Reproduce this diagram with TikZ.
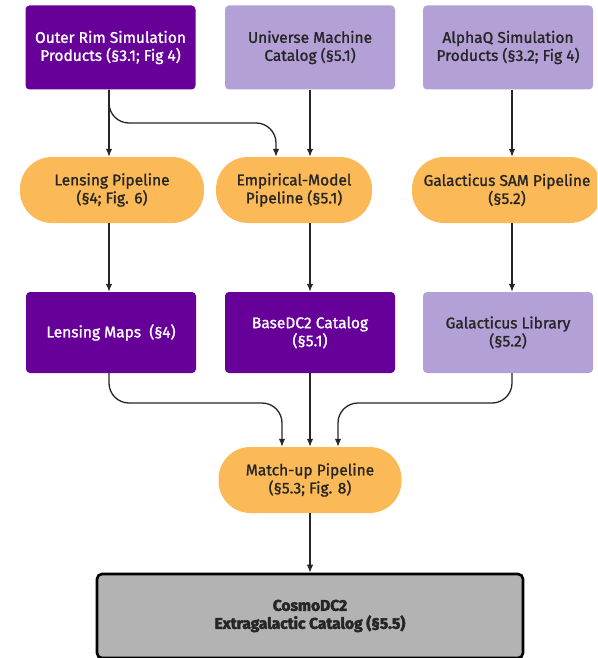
\documentclass[tikz,border=0pt]{standalone}
\usepackage{fontspec}
\setmainfont{Fira Sans}[FakeBold=1.3,BoldFeatures={FakeBold=3}]
\usetikzlibrary{arrows.meta}
\definecolor{dpurple}{HTML}{660099}
\definecolor{lpurple}{HTML}{B3A0D6}
\definecolor{porange}{HTML}{FCB957}
\definecolor{fgrey}{HTML}{B3B3B3}
\definecolor{ink}{HTML}{262626}
\begin{document}
\begin{tikzpicture}[x=1pt,y=-1pt,
  base/.style={align=center,font=\fontsize{15.5}{18}\selectfont,inner sep=2pt},
  darkbox/.style={base,fill=dpurple,text=white,rounded corners=4pt,minimum width=170pt,minimum height=84pt},
  lightbox/.style={base,fill=lpurple,text=ink,rounded corners=4pt,minimum width=170pt,minimum height=84pt},
  pill/.style={base,fill=porange,text=ink,rounded corners=32pt,minimum height=66pt},
  finalbox/.style={base,fill=fgrey,text=ink,draw=black,line width=2.6pt,rounded corners=5pt,minimum width=426pt,minimum height=84pt},
  arr/.style={draw=ink,line width=1.3pt,-{Latex[length=8pt,width=6.5pt]}}]
\useasboundingbox (0,0) rectangle (597,658);
\clip (0,0) rectangle (597,658);
% row 1
\node[darkbox]  (outer) at (110.5,47.5) {Outer Rim Simulation\\Products (§3.1; Fig 4)};
\node[lightbox] (um)    at (310,47.5)   {Universe Machine\\Catalog (§5.1)};
\node[lightbox] (alpha) at (508,47.5)   {AlphaQ Simulation\\Products (§3.2; Fig 4)};
% row 2
\node[pill,minimum width=184pt] (lpipe) at (112,190) {Lensing Pipeline\\(§4; Fig. 6)};
\node[pill,minimum width=156pt] (epipe) at (294,190) {Empirical-Model\\Pipeline (§5.1)};
\node[pill,minimum width=190pt] (gpipe) at (507,190) {Galacticus SAM Pipeline\\(§5.2)};
% row 3
\node[darkbox,minimum height=81pt]  (lmaps) at (111,332.5) {Lensing Maps~~(§4)};
\node[darkbox,minimum height=81pt]  (bdc2)  at (310,332.5) {BaseDC2 Catalog\\(§5.1)};
\node[lightbox,minimum height=81pt] (glib)  at (508,332.5) {Galacticus Library\\(§5.2)};
% row 4
\node[pill,minimum width=183pt] (match) at (310,480) {Match-up Pipeline\\(§5.3; Fig. 8)};
% final
\node[finalbox] (cosmo) at (310,616) {\textbf{CosmoDC2}\\\textbf{Extragalactic Catalog (§5.5)}};
% connectors
\coordinate (ein) at ([xshift=-18pt]epipe.north);
\coordinate (ml) at ([xshift=-28pt]match.north);
\coordinate (mr) at ([xshift=28pt]match.north);
\draw[arr] (outer.south -| 109,0) -- (lpipe.north -| 109,0);
\draw[arr,rounded corners=20pt] (outer.south -| 109,0) |- (ein |- 0,123) -- (ein);
\draw[arr] (um.south) -- (um.south |- epipe.north);
\draw[arr] (alpha.south -| 512,0) -- (gpipe.north -| 512,0);
\draw[arr] (lpipe.south -| 109,0) -- (lmaps.north -| 109,0);
\draw[arr] (bdc2.north |- epipe.south) -- (bdc2.north);
\draw[arr] (gpipe.south -| 512,0) -- (glib.north -| 512,0);
\draw[arr,rounded corners=20pt] (lmaps.south -| 109,0) |- (ml |- 0,403) -- (ml);
\draw[arr] (bdc2.south) -- (match.north);
\draw[arr,rounded corners=20pt] (glib.south -| 512,0) |- (mr |- 0,403) -- (mr);
\draw[arr] (match.south) -- (cosmo.north);
\end{tikzpicture}
\end{document}
